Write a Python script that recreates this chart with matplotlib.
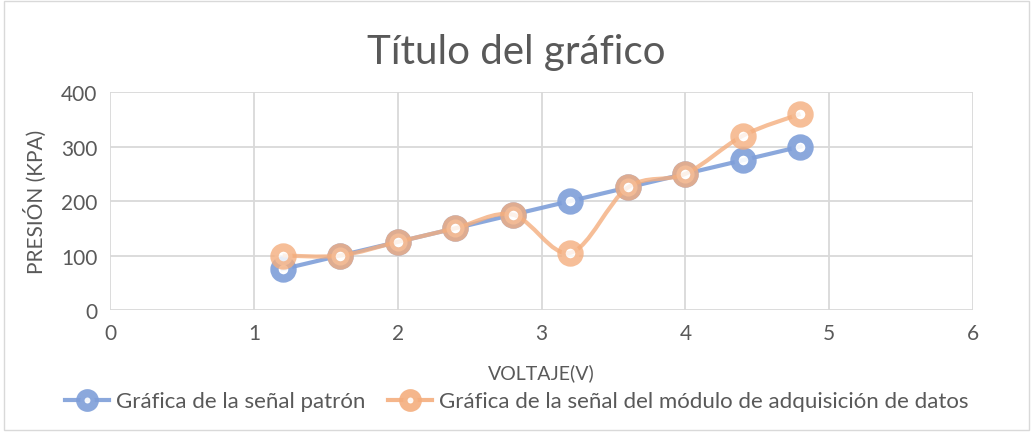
import numpy as np
import matplotlib.pyplot as plt
from matplotlib.path import Path
from matplotlib.patches import PathPatch, Rectangle

plt.rcParams['font.family'] = ['Lato', 'DejaVu Sans']

voltaje = [1.2, 1.6, 2.0, 2.4, 2.8, 3.2, 3.6, 4.0, 4.4, 4.8]
patron = [75, 100, 125, 150, 175, 200, 225, 250, 275, 300]
modulo = [100, 100, 125, 150, 175, 105, 225, 250, 320, 360]

azul = '#7F9FD9'
naranja = '#F4AE7E'
gris = '#595959'


def curva_suave(ax, xs, ys, **kw):
    # curva tipo Excel (Catmull-Rom en Bezier)
    pts = ax.transData.transform(np.column_stack([xs, ys]))
    inv = ax.transData.inverted()
    verts = [pts[0]]
    codes = [Path.MOVETO]
    n = len(pts)
    for i in range(n - 1):
        p0 = pts[max(i - 1, 0)]
        p1 = pts[i]
        p2 = pts[i + 1]
        p3 = pts[min(i + 2, n - 1)]
        c1 = p1 + (p2 - p0) / 6
        c2 = p2 - (p3 - p1) / 6
        verts += [c1, c2, p2]
        codes += [Path.CURVE4] * 3
    verts = inv.transform(np.array(verts))
    ax.add_patch(PathPatch(Path(verts, codes), fill=False, **kw))


fig = plt.figure(figsize=(10.33, 4.35), dpi=100)
ax = fig.add_axes([0.1065, 0.285, 0.8355, 0.501])
ax.set_xlim(0, 6)
ax.set_ylim(0, 400)
ax.set_xticks(range(0, 7))
ax.set_yticks(range(0, 401, 100))
ax.grid(True, color='#D9D9D9', linewidth=1.3)
ax.set_axisbelow(True)
for s in ax.spines.values():
    s.set_visible(False)
ax.tick_params(length=0, labelsize=15, colors=gris, pad=9)

fig.canvas.draw()

mk = dict(marker='o', markersize=13, markerfacecolor='white', markeredgewidth=6)
ax.plot(voltaje, patron, color=azul, linewidth=3, markeredgecolor=azul,
        label='Gráfica de la señal patrón', alpha=0.9, zorder=3, **mk)
curva_suave(ax, voltaje, modulo, edgecolor=naranja, linewidth=3, alpha=0.8, zorder=4)
ax.plot(voltaje, modulo, color=naranja, linestyle='none', markeredgecolor=naranja,
        alpha=0.8, zorder=4, **mk)
ax.plot([], [], color=naranja, linewidth=3, markeredgecolor=naranja, alpha=0.9,
        label='Gráfica de la señal del módulo de adquisición de datos', **mk)

ax.set_xlabel('VOLTAJE(V)', fontsize=14, color=gris, labelpad=15)
ax.set_ylabel('PRESIÓN (KPA)', fontsize=15, color=gris, labelpad=10)
fig.text(0.5, 0.88, 'Título del gráfico', ha='center', va='center', fontsize=29, color=gris)

ax.legend(loc='center', bbox_to_anchor=(0.5, 0.075), bbox_transform=fig.transFigure,
          ncol=2, frameon=False, fontsize=16, labelcolor=gris, handlelength=2.0,
          handletextpad=0.3, columnspacing=1.0, markerscale=0.8)

fig.patches.append(Rectangle((0.004, 0.01), 0.992, 0.985, transform=fig.transFigure,
                             fill=False, edgecolor='#D9D9D9', linewidth=1))

fig.savefig('out.png', dpi=100)
